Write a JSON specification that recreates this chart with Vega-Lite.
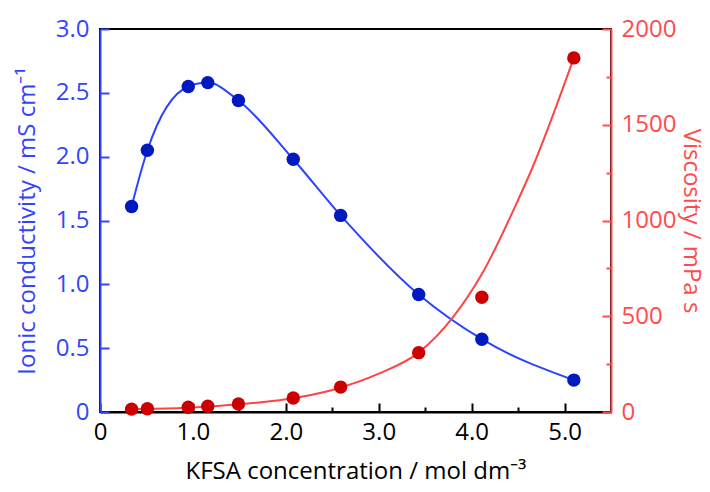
{
  "$schema": "https://vega.github.io/schema/vega-lite/v6.json",
  "autosize": "none",
  "width": 511,
  "height": 383,
  "padding": {"left": 100, "top": 29, "right": 99, "bottom": 80},
  "background": "white",
  "config": {
    "view": {"stroke": "black", "strokeWidth": 2},
    "font": "Open Sans",
    "axis": {"grid": true, "gridOpacity": 0, "labelFlush": false, "labelFont": "Open Sans", "titleFont": "Open Sans", "labelFontSize": 24, "titleFontSize": 24, "titleFontWeight": "normal", "domainWidth": 2, "ticks": true, "tickOpacity": 1, "tickWidth": 2}
  },
  "datasets": {
    "cond": [
      {"c": 0.34, "sigma": 1.61},
      {"c": 0.51, "sigma": 2.05},
      {"c": 0.95, "sigma": 2.55},
      {"c": 1.16, "sigma": 2.58},
      {"c": 1.49, "sigma": 2.44},
      {"c": 2.08, "sigma": 1.98},
      {"c": 2.59, "sigma": 1.54},
      {"c": 3.43, "sigma": 0.92},
      {"c": 4.11, "sigma": 0.57},
      {"c": 5.10, "sigma": 0.25}
    ],
    "visc": [
      {"c": 0.34, "eta": 15},
      {"c": 0.51, "eta": 17},
      {"c": 0.95, "eta": 25},
      {"c": 1.16, "eta": 30},
      {"c": 1.49, "eta": 42},
      {"c": 2.08, "eta": 73},
      {"c": 2.59, "eta": 130},
      {"c": 3.43, "eta": 310},
      {"c": 4.11, "eta": 599},
      {"c": 5.10, "eta": 1849}
    ],
    "viscfit": [
      {"c": 0.34, "eta": 14},
      {"c": 0.5, "eta": 16},
      {"c": 1.0, "eta": 24},
      {"c": 1.5, "eta": 40},
      {"c": 2.0, "eta": 66},
      {"c": 2.5, "eta": 115},
      {"c": 3.0, "eta": 200},
      {"c": 3.43, "eta": 310},
      {"c": 3.8, "eta": 495},
      {"c": 4.11, "eta": 720},
      {"c": 4.5, "eta": 1107},
      {"c": 4.63, "eta": 1248},
      {"c": 5.1, "eta": 1849}
    ]
  },
  "layer": [
    {
      "layer": [
        {
          "data": {"name": "cond"},
          "mark": {"type": "line", "interpolate": "monotone", "color": "#2a45ff", "strokeWidth": 2},
          "encoding": {
            "x": {"field": "c", "type": "quantitative", "scale": {"domain": [0, 5.5], "nice": false, "zero": false},
              "axis": {"title": "KFSA concentration / mol dm⁻³", "values": [0, 0.5, 1, 1.5, 2, 2.5, 3, 3.5, 4, 4.5, 5],
                "labelExpr": "datum.value % 1 === 0 ? (datum.value === 0 ? '0' : format(datum.value, '.1f')) : ''",
                "tickSize": {"condition": {"test": "datum.value % 1 === 0", "value": -9}, "value": -5},
                "domainColor": "black", "tickColor": "black", "labelColor": "black", "titleColor": "black",
                "labelPadding": 17, "titlePadding": 15}},
            "y": {"field": "sigma", "type": "quantitative", "scale": {"domain": [0, 3], "nice": false},
              "axis": {"orient": "left", "title": "Ionic conductivity / mS cm⁻¹", "values": [0, 0.25, 0.5, 0.75, 1, 1.25, 1.5, 1.75, 2, 2.25, 2.5, 2.75, 3],
                "labelExpr": "datum.value % 0.5 === 0 ? (datum.value === 0 ? '0' : format(datum.value, '.1f')) : ''",
                "tickSize": {"condition": {"test": "datum.value % 0.5 === 0", "value": -9}, "value": -5},
                "domainColor": "#3344ff", "tickColor": "#3344ff", "labelColor": "#3344ff", "titleColor": "#3344ff",
                "labelPadding": 20, "titlePadding": 16}}
          }
        },
        {
          "data": {"name": "cond"},
          "mark": {"type": "point", "filled": true, "opacity": 1, "size": 180, "color": "#0019c0"},
          "encoding": {
            "x": {"field": "c", "type": "quantitative"},
            "y": {"field": "sigma", "type": "quantitative"}
          }
        }
      ]
    },
    {
      "layer": [
        {
          "data": {"name": "viscfit"},
          "mark": {"type": "line", "interpolate": "monotone", "color": "#ff4444", "strokeWidth": 2},
          "encoding": {
            "x": {"field": "c", "type": "quantitative"},
            "y": {"field": "eta", "type": "quantitative", "scale": {"domain": [0, 2000], "nice": false},
              "axis": {"orient": "right", "title": "Viscosity / mPa s", "values": [0, 250, 500, 750, 1000, 1250, 1500, 1750, 2000],
                "labelExpr": "datum.value % 500 === 0 ? format(datum.value, 'd') : ''",
                "tickSize": {"condition": {"test": "datum.value % 500 === 0", "value": -9}, "value": -5},
                "domainColor": "#ff4b4b", "tickColor": "#ff4b4b", "labelColor": "#ff4b4b", "titleColor": "#ff4b4b",
                "labelPadding": 19, "titlePadding": 3}}
          }
        },
        {
          "data": {"name": "visc"},
          "mark": {"type": "point", "filled": true, "opacity": 1, "size": 180, "color": "#cc0000"},
          "encoding": {
            "x": {"field": "c", "type": "quantitative"},
            "y": {"field": "eta", "type": "quantitative"}
          }
        }
      ]
    }
  ],
  "resolve": {"scale": {"y": "independent"}}
}
